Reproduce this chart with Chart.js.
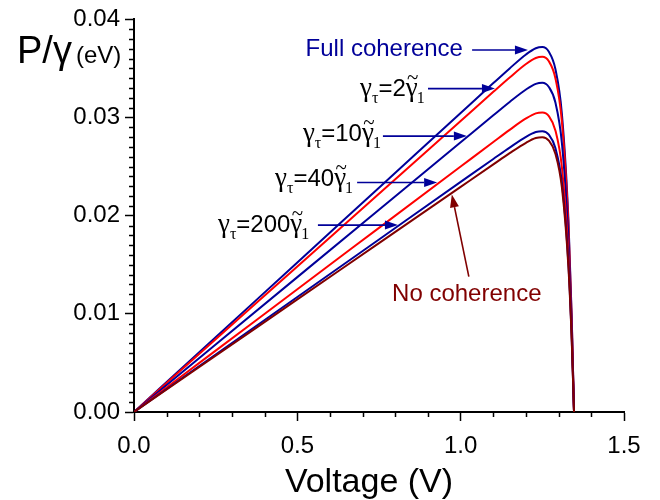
<!DOCTYPE html>
<html>
<head>
<meta charset="utf-8">
<script src="https://cdn.jsdelivr.net/npm/chart.js@4"></script>
<style>
  html, body { margin: 0; padding: 0; background: #fff; }
</style>
</head>
<body>
<canvas id="chartPower" width="660" height="500"></canvas>
<script>
// voltage grid (V) and P/gamma (eV)
const voltage = [0, 0.25, 0.5, 0.75, 1.0, 1.1, 1.15, 1.2, 1.23, 1.25, 1.27, 1.29, 1.31, 1.33, 1.34, 1.347];
const fullCoherence = [0, 0.00762, 0.01523, 0.02285, 0.03046, 0.03351, 0.03501, 0.03643, 0.03706, 0.03718, 0.03670, 0.03494, 0.03034, 0.01949, 0.00966, 0];
const gamma2 = [0, 0.00741, 0.01483, 0.02224, 0.02965, 0.03262, 0.03408, 0.03546, 0.03607, 0.03619, 0.03573, 0.03401, 0.02953, 0.01898, 0.00940, 0];
const gamma10 = [0, 0.00687, 0.01374, 0.02061, 0.02748, 0.03023, 0.03159, 0.03286, 0.03343, 0.03354, 0.03311, 0.03153, 0.02737, 0.01759, 0.00871, 0];
const gamma40 = [0, 0.00625, 0.01251, 0.01876, 0.02501, 0.02751, 0.02875, 0.02991, 0.03043, 0.03052, 0.03014, 0.02869, 0.02491, 0.01601, 0.00793, 0];
const gamma200 = [0, 0.00586, 0.01172, 0.01758, 0.02344, 0.02578, 0.02694, 0.02803, 0.02852, 0.02861, 0.02825, 0.02689, 0.02335, 0.01500, 0.00743, 0];
const noCoherence = [0, 0.00574, 0.01147, 0.01721, 0.02294, 0.02523, 0.02637, 0.02743, 0.02791, 0.02800, 0.02764, 0.02632, 0.02285, 0.01468, 0.00727, 0];

const xTicks = [0, 0.5, 1.0, 1.5];
const yTicks = [0, 0.01, 0.02, 0.03, 0.04];

const BLUE = "#000099";
const RED = "#ff0000";
const MAROON = "#800000";
const SANS = "'Liberation Sans', Arial, sans-serif";
const SERIF = "'Liberation Serif', 'Times New Roman', serif";

function pts(ys) {
  return voltage.map(function (v, i) { return { x: v, y: ys[i] }; });
}

function series(label, ys, color) {
  return {
    label: label,
    data: pts(ys),
    borderColor: color,
    backgroundColor: color,
    borderWidth: 2,
    pointRadius: 0,
    fill: false,
    cubicInterpolationMode: "monotone",
  };
}

// annotation anchors in data units (V, eV)
const gammaLabels = [
  { n: "2", tx: 0.692, ty: 0.03224, ax: 0.900, bx: 1.105, ay: 0.03295 },
  { n: "10", tx: 0.517, ty: 0.02761, ax: 0.762, bx: 1.019, ay: 0.02811 },
  { n: "40", tx: 0.432, ty: 0.02307, ax: 0.683, bx: 0.928, ay: 0.02338 },
  { n: "200", tx: 0.257, ty: 0.01834, ax: 0.563, bx: 0.808, ay: 0.01904 },
];

function arrow(ctx, x1, y1, x2, y2, color) {
  var ang = Math.atan2(y2 - y1, x2 - x1);
  var len = 13, half = 4.5;
  ctx.save();
  ctx.strokeStyle = color;
  ctx.fillStyle = color;
  ctx.lineWidth = 1.6;
  ctx.beginPath();
  ctx.moveTo(x1, y1);
  ctx.lineTo(x2 - Math.cos(ang) * len, y2 - Math.sin(ang) * len);
  ctx.stroke();
  ctx.beginPath();
  ctx.moveTo(x2, y2);
  ctx.lineTo(x2 - Math.cos(ang) * len - Math.sin(ang) * half, y2 - Math.sin(ang) * len + Math.cos(ang) * half);
  ctx.lineTo(x2 - Math.cos(ang) * len + Math.sin(ang) * half, y2 - Math.sin(ang) * len - Math.cos(ang) * half);
  ctx.closePath();
  ctx.fill();
  ctx.restore();
}

function gammaText(ctx, x, y, n) {
  ctx.save();
  ctx.fillStyle = "#000";
  ctx.textAlign = "left";
  ctx.textBaseline = "alphabetic";
  ctx.font = "27px " + SERIF;
  ctx.fillText("γ", x, y);
  x += ctx.measureText("γ").width;
  ctx.font = "16px " + SERIF;
  ctx.fillText("τ", x, y + 7);
  x += ctx.measureText("τ").width;
  ctx.font = "24px " + SANS;
  ctx.fillText("=" + n, x, y);
  x += ctx.measureText("=" + n).width;
  ctx.font = "27px " + SERIF;
  var w = ctx.measureText("γ").width;
  ctx.fillText("γ", x, y);
  ctx.textAlign = "center";
  ctx.font = "21px " + SERIF;
  ctx.fillText("~", x + w / 2 + 1, y - 12);
  x += w;
  ctx.textAlign = "left";
  ctx.font = "16px " + SERIF;
  ctx.fillText("1", x - 1, y + 7);
  ctx.restore();
}

const decorPlugin = {
  id: "decor",
  afterDraw: function (chart) {
    var ctx = chart.ctx;
    var xs = chart.scales.x, ys = chart.scales.y;
    var X = function (v) { return xs.getPixelForValue(v); };
    var Y = function (v) { return ys.getPixelForValue(v); };

    // minor ticks
    ctx.save();
    ctx.strokeStyle = "#000";
    ctx.lineWidth = 1.5;
    ctx.beginPath();
    for (var i = 1; i < 15; i++) {
      if (i % 5 === 0) continue;
      var px = Math.round(X(i / 10)) + 0.5;
      ctx.moveTo(px, ys.bottom);
      ctx.lineTo(px, ys.bottom + 5);
    }
    for (var j = 1; j < 40; j++) {
      if (j % 10 === 0) continue;
      var py = Math.round(Y(j / 1000)) + 0.5;
      ctx.moveTo(xs.left, py);
      ctx.lineTo(xs.left - 5, py);
    }
    ctx.stroke();
    ctx.restore();

    // axis titles
    ctx.save();
    ctx.fillStyle = "#000";
    ctx.textBaseline = "alphabetic";
    ctx.textAlign = "left";
    ctx.font = "38px " + SANS;
    ctx.fillText("P/γ", 17, 63);
    ctx.font = "24px " + SANS;
    ctx.fillText("(eV)", 76, 63);
    ctx.textAlign = "center";
    ctx.font = "34px " + SANS;
    ctx.fillText("Voltage (V)", (xs.left + xs.right) / 2 - 10, 492);
    ctx.restore();

    // Full coherence
    ctx.save();
    ctx.font = "24px " + SANS;
    ctx.fillStyle = BLUE;
    ctx.textAlign = "right";
    ctx.fillText("Full coherence", X(1.007), Y(0.03627));
    ctx.restore();
    arrow(ctx, X(1.035), Y(0.03688), X(1.206), Y(0.03688), BLUE);

    // gamma_tau labels
    gammaLabels.forEach(function (g) {
      gammaText(ctx, X(g.tx), Y(g.ty), g.n);
      arrow(ctx, X(g.ax), Y(g.ay), X(g.bx), Y(g.ay), BLUE);
    });

    // No coherence
    ctx.save();
    ctx.font = "24px " + SANS;
    ctx.fillStyle = MAROON;
    ctx.textAlign = "left";
    ctx.fillText("No coherence", X(0.790), Y(0.01128));
    ctx.restore();
    arrow(ctx, X(1.025), Y(0.0138), X(0.973), Y(0.02217), MAROON);
  },
};

const configPower = {
  type: "line",
  data: {
    datasets: [
      series("No coherence", noCoherence, MAROON),
      series("gamma200", gamma200, BLUE),
      series("gamma40", gamma40, RED),
      series("gamma10", gamma10, BLUE),
      series("gamma2", gamma2, RED),
      series("Full coherence", fullCoherence, BLUE),
    ],
  },
  options: {
    responsive: false,
    animation: false,
    layout: { padding: { top: 15, right: 36, left: 0, bottom: 0 } },
    plugins: { legend: { display: false }, tooltip: { enabled: false } },
    scales: {
      x: {
        type: "linear",
        min: 0,
        max: 1.5,
        afterFit: function (s) { s.height = 88; },
        afterBuildTicks: function (s) { s.ticks = xTicks.map(function (v) { return { value: v }; }); },
        ticks: {
          color: "#000",
          font: { family: SANS, size: 24 },
          padding: 11,
          maxRotation: 0,
          callback: function (v) { return Number(v).toFixed(1); },
        },
        grid: { drawOnChartArea: false, drawTicks: true, tickLength: 9, tickWidth: 1.5, tickColor: "#000" },
        border: { display: true, color: "#000", width: 2 },
      },
      y: {
        type: "linear",
        min: 0,
        max: 0.04,
        afterFit: function (s) { s.width = 134; },
        afterBuildTicks: function (s) { s.ticks = yTicks.map(function (v) { return { value: v }; }); },
        ticks: {
          color: "#000",
          font: { family: SANS, size: 24 },
          padding: 5,
          callback: function (v) { return Number(v).toFixed(2); },
        },
        grid: { drawOnChartArea: false, drawTicks: true, tickLength: 9, tickWidth: 1.5, tickColor: "#000" },
        border: { display: true, color: "#000", width: 2 },
      },
    },
  },
  plugins: [decorPlugin],
};

var chartPower = new Chart(document.getElementById("chartPower"), configPower);
</script>
</body>
</html>
